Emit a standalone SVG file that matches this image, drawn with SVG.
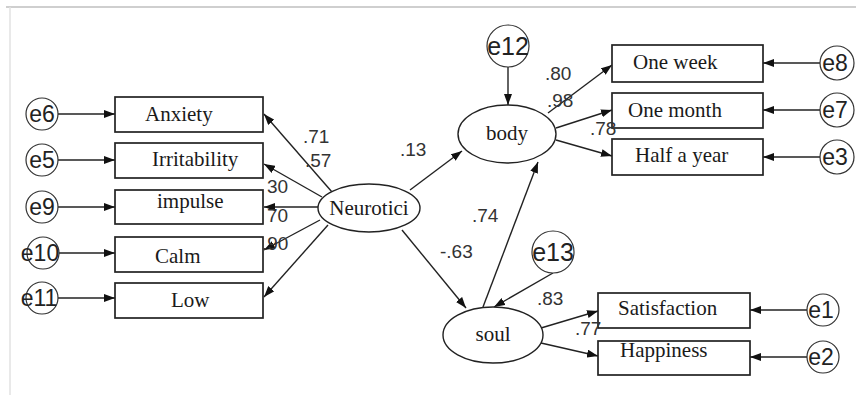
<svg xmlns="http://www.w3.org/2000/svg" width="856" height="395" viewBox="0 0 856 395">
<defs>
<marker id="ah" markerUnits="userSpaceOnUse" markerWidth="11" markerHeight="8" refX="11" refY="4" orient="auto">
<path d="M0,0 L11,4 L0,8 z" fill="#111"/>
</marker>
<style>
.box{fill:#fff;stroke:#222;stroke-width:1.7}
.lat{fill:#fff;stroke:#222;stroke-width:1.4}
.err{fill:#fff;stroke:#333;stroke-width:1.2}
.lbl{font-family:"Liberation Serif","Times New Roman",serif;font-size:21px;fill:#1a1a1a}
.etx{font-family:"Liberation Sans",Arial,sans-serif;font-size:23px;fill:#222;text-anchor:middle}
.num{font-family:"Liberation Sans",Arial,sans-serif;font-size:19px;fill:#333}
.edge{stroke:#222;stroke-width:1.4;fill:none;marker-end:url(#ah)}
</style>
</defs>
<rect width="856" height="395" fill="#fff"/>
<line x1="6" y1="7" x2="856" y2="7" stroke="#cfcfcf" stroke-width="2"/>
<line x1="10" y1="7" x2="10" y2="395" stroke="#e2e2e2" stroke-width="1.5"/>

<g id="connectors">
<line class="edge" x1="58" y1="114" x2="115" y2="114"/>
<line class="edge" x1="58" y1="160" x2="115" y2="160"/>
<line class="edge" x1="58" y1="207" x2="115" y2="207"/>
<line class="edge" x1="58" y1="253" x2="115" y2="253"/>
<line class="edge" x1="58" y1="298" x2="115" y2="298"/>
<line class="edge" x1="332" y1="192" x2="264" y2="114"/>
<line class="edge" x1="322" y1="197" x2="264" y2="164"/>
<line class="edge" x1="318" y1="207" x2="264" y2="207"/>
<line class="edge" x1="320" y1="220" x2="264" y2="250"/>
<line class="edge" x1="328" y1="225" x2="264" y2="297"/>
<line class="edge" x1="410" y1="190" x2="462" y2="151"/>
<line class="edge" x1="402" y1="230" x2="466" y2="308"/>
<line class="edge" x1="483" y1="307" x2="538" y2="162"/>
<line class="edge" x1="508" y1="67" x2="508" y2="105"/>
<line class="edge" x1="553" y1="273" x2="494" y2="307"/>
<line class="edge" x1="548" y1="113" x2="612" y2="65"/>
<line class="edge" x1="556" y1="128" x2="612" y2="110"/>
<line class="edge" x1="556" y1="140" x2="612" y2="156"/>
<line class="edge" x1="820" y1="63" x2="763" y2="63"/>
<line class="edge" x1="820" y1="110" x2="763" y2="110"/>
<line class="edge" x1="820" y1="157" x2="763" y2="157"/>
<line class="edge" x1="541" y1="328" x2="598" y2="311"/>
<line class="edge" x1="541" y1="343" x2="598" y2="356"/>
<line class="edge" x1="807" y1="310" x2="750" y2="310"/>
<line class="edge" x1="807" y1="357" x2="750" y2="357"/>
</g>

<g id="e6"><circle class="err" cx="42" cy="114" r="16"/><text class="etx" x="42" y="122">e6</text></g>
<g id="e5"><circle class="err" cx="42" cy="160" r="16"/><text class="etx" x="42" y="168">e5</text></g>
<g id="e9"><circle class="err" cx="42" cy="207" r="16"/><text class="etx" x="42" y="215">e9</text></g>
<g id="e10"><circle class="err" cx="43" cy="253" r="16"/><text class="etx" x="40" y="261">e10</text></g>
<g id="e11"><circle class="err" cx="42" cy="298" r="16"/><text class="etx" x="39" y="306">e11</text></g>

<g id="anxiety"><rect class="box" x="115" y="97" width="148" height="35"/><text class="lbl" x="145" y="121">Anxiety</text></g>
<g id="irritability"><rect class="box" x="115" y="143" width="148" height="35"/><text class="lbl" x="152" y="166">Irritability</text></g>
<g id="impulse"><rect class="box" x="115" y="190" width="148" height="34"/><text class="lbl" x="157" y="208">impulse</text></g>
<g id="calm"><rect class="box" x="115" y="237" width="148" height="35"/><text class="lbl" x="155" y="263">Calm</text></g>
<g id="low"><rect class="box" x="115" y="283" width="148" height="35"/><text class="lbl" x="171" y="307">Low</text></g>

<g id="neurotici"><ellipse class="lat" cx="369" cy="208" rx="51" ry="24"/><text class="lbl" x="369" y="215" text-anchor="middle">Neurotici</text></g>
<g id="body"><ellipse class="lat" cx="507" cy="134" rx="49" ry="29"/><text class="lbl" x="507" y="140" text-anchor="middle">body</text></g>
<g id="soul"><ellipse class="lat" cx="493" cy="335" rx="50" ry="28"/><text class="lbl" x="493" y="341" text-anchor="middle">soul</text></g>

<g id="e12"><circle class="err" cx="508" cy="46" r="21"/><text class="etx" x="508" y="55" style="font-size:25px">e12</text></g>
<g id="e13"><circle class="err" cx="553" cy="252" r="21"/><text class="etx" x="553" y="261" style="font-size:25px">e13</text></g>

<g id="oneweek"><rect class="box" x="612" y="45" width="151" height="37"/><text class="lbl" x="633" y="69">One week</text></g>
<g id="onemonth"><rect class="box" x="612" y="93" width="151" height="35"/><text class="lbl" x="628" y="117">One month</text></g>
<g id="halfayear"><rect class="box" x="612" y="139" width="151" height="36"/><text class="lbl" x="635" y="162">Half a year</text></g>

<g id="e8"><circle class="err" cx="837" cy="63" r="17"/><text class="etx" x="835" y="71">e8</text></g>
<g id="e7"><circle class="err" cx="837" cy="110" r="17"/><text class="etx" x="835" y="118">e7</text></g>
<g id="e3"><circle class="err" cx="837" cy="157" r="17"/><text class="etx" x="835" y="165">e3</text></g>

<g id="satisfaction"><rect class="box" x="598" y="293" width="152" height="35"/><text class="lbl" x="618" y="315">Satisfaction</text></g>
<g id="happiness"><rect class="box" x="598" y="341" width="152" height="34"/><text class="lbl" x="620" y="357">Happiness</text></g>

<g id="e1"><circle class="err" cx="823" cy="310" r="16"/><text class="etx" x="821" y="318">e1</text></g>
<g id="e2"><circle class="err" cx="823" cy="357" r="16"/><text class="etx" x="821" y="365">e2</text></g>

<g id="labels">
<text class="num" x="303" y="143">.71</text>
<text class="num" x="305" y="167">.57</text>
<text class="num" x="267" y="193">30</text>
<text class="num" x="267" y="222">70</text>
<text class="num" x="262" y="250">.90</text>
<text class="num" x="400" y="156">.13</text>
<text class="num" x="545" y="80">.80</text>
<text class="num" x="547" y="107">.98</text>
<text class="num" x="590" y="135">.78</text>
<text class="num" x="472" y="222">.74</text>
<text class="num" x="440" y="258">-.63</text>
<text class="num" x="537" y="305">.83</text>
<text class="num" x="575" y="335">.77</text>
</g>
</svg>
